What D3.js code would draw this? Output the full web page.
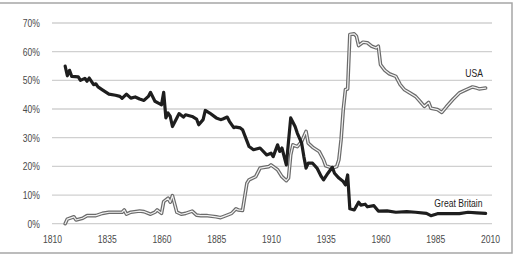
<!DOCTYPE html>
<html>
<head>
<meta charset="utf-8">
<script src="https://cdn.jsdelivr.net/npm/d3@7"></script>
<style>
  html, body { margin: 0; padding: 0; background: #fff; }
  svg { display: block; }
  text { font-family: "Liberation Sans", Arial, sans-serif; }
</style>
</head>
<body>
<svg id="chart" width="520" height="255"></svg>
<script>
// ---- Data ----
const yTicks = [0, 10, 20, 30, 40, 50, 60, 70];
const xTicks = [1810, 1835, 1860, 1885, 1910, 1935, 1960, 1985, 2010];

const usaYears = [1816,1817,1820,1821,1824,1826,1830,1833,1836,1838,1842,1843,1844,1846,1850,1852,1855,1857,1858,1860,1861,1863,1864,1865,1867,1869,1871,1874,1876,1878,1881,1885,1887,1890,1892,1894,1895,1897,1899,1900,1903,1905,1909,1910,1913,1915,1917,1918,1919,1920,1922,1924,1926,1927,1929,1932,1934,1935,1938,1940,1941,1942,1943,1944,1945,1946,1948,1949,1950,1952,1954,1956,1958,1959,1960,1962,1964,1967,1969,1971,1973,1976,1978,1980,1982,1983,1986,1988,1990,1993,1996,1999,2002,2004,2005,2008];
const usaShare = [0,1.6,2.4,1.3,1.9,2.8,2.8,3.6,4,4,4,4.8,3.3,4,4.4,4.2,3.3,4,4.8,3.6,7.7,8.9,7.5,9.8,4,3.3,3.6,4.4,3,2.8,2.8,2.4,2.1,3,3.6,5.2,4.8,4.6,14.1,15.3,16.4,19.4,19.9,20.5,18.8,16.4,15,15.9,24,27.5,26.9,28.7,32.2,28.1,26.7,25.2,22.3,20.2,19.4,19.9,22.3,29.3,39.8,46.8,47,66,66.2,65.4,62.1,63.3,63.1,61.9,61.3,61.9,55.5,53.5,52.3,51.4,48.5,46.7,45.8,44.4,42.7,40.9,42.3,40.3,39.8,38.8,40.7,43.3,45.6,46.7,47.7,47.3,47,47.3];

const gbYears = [1816,1817,1818,1819,1822,1823,1825,1826,1827,1829,1830,1831,1833,1836,1839,1841,1842,1844,1846,1848,1850,1852,1854,1855,1857,1859,1860,1861,1862,1863,1864,1865,1867,1868,1870,1871,1874,1876,1877,1879,1880,1882,1885,1887,1888,1890,1891,1893,1894,1896,1897,1900,1902,1905,1908,1910,1911,1913,1914,1915,1917,1919,1921,1922,1924,1925,1926,1927,1929,1931,1933,1934,1936,1938,1939,1941,1943,1944,1945,1946,1948,1950,1951,1953,1954,1957,1959,1963,1967,1972,1976,1981,1983,1986,1990,1996,2000,2004,2008];
const gbShare = [55,51.6,53.5,51.4,51.2,50,50.7,49.7,50.8,48.5,48.8,47.7,46.7,45.2,44.8,44.4,43.7,45.2,43.8,44.2,43.5,43,44.4,45.8,42.7,41.9,41.5,45.8,36.9,38.6,37.4,33.9,36.9,38.4,37.2,38,37.4,36.5,34.5,36.3,39.5,38.6,36.9,36.3,36.5,37.2,35.7,33.5,33.7,33.4,32.8,26.9,25.8,26.4,24,24.6,23.4,27.5,25.2,26.4,20.5,36.9,33.9,31.6,28.1,23.4,19.4,21.1,21.1,19.4,16.4,15.3,17.6,19.7,17.6,15.9,14.7,13.5,17,5.2,4.8,7.5,6.5,6.8,5.9,6.3,4.4,4.5,4,4.2,4,3.6,2.8,3.5,3.5,3.5,4,3.8,3.6];

const seriesLabels = ["USA", "Great Britain"];

// ---- Chart ----
const svg = d3.select("#chart");
const NARROW = "scale(0.78,1)";

// frame
svg.append("rect")
  .attr("x", -2).attr("y", 3).attr("width", 514).attr("height", 250)
  .attr("fill", "#fff").attr("stroke", "#a6a6a6").attr("stroke-width", 1.5);

const x = d3.scaleLinear().domain([1810, 2010]).range([52, 490]);
const y = d3.scaleLinear().domain([0, 70]).range([223.7, 23]);

// grid
svg.append("g").selectAll("line").data(yTicks).join("line")
  .attr("x1", 52).attr("x2", 492)
  .attr("y1", d => y(d)).attr("y2", d => y(d))
  .attr("stroke", "#d0d0d0").attr("stroke-width", 1.3);

// y axis labels
const yAxis = d3.axisLeft(y).tickValues(yTicks).tickFormat(d => d + "%").tickSize(0).tickPadding(0);
const gy = svg.append("g").attr("transform", "translate(40,0)").call(yAxis);
gy.select(".domain").remove();
gy.selectAll("text").attr("fill", "#4a4a4a").attr("transform", NARROW)
  .style("font-size", "11px").style("font-family", "Liberation Sans, Arial, sans-serif");

// x axis labels
const xAxis = d3.axisBottom(x).tickValues(xTicks).tickFormat(d3.format("d")).tickSize(0).tickPadding(0);
const gx = svg.append("g").attr("transform", "translate(0,235.5)").call(xAxis);
gx.select(".domain").remove();
gx.selectAll("text").attr("fill", "#4a4a4a").attr("transform", NARROW)
  .style("font-size", "11px").style("font-family", "Liberation Sans, Arial, sans-serif");

const line = d3.line().x(d => x(d[0])).y(d => y(d[1])).curve(d3.curveLinear);
const usa = usaYears.map((yr, i) => [yr, usaShare[i]]);
const gb = gbYears.map((yr, i) => [yr, gbShare[i]]);

// USA: double (cased) line
svg.append("path").datum(usa).attr("d", line)
  .attr("fill", "none").attr("stroke", "#6b6b6b").attr("stroke-width", 3.6)
  .attr("stroke-linejoin", "round").attr("stroke-linecap", "round");
svg.append("path").datum(usa).attr("d", line)
  .attr("fill", "none").attr("stroke", "#f2f2f2").attr("stroke-width", 1.2)
  .attr("stroke-linejoin", "round").attr("stroke-linecap", "round");

// Great Britain: bold dark line
svg.append("path").datum(gb).attr("d", line)
  .attr("fill", "none").attr("stroke", "#1e1e1e").attr("stroke-width", 3.2)
  .attr("stroke-linejoin", "round").attr("stroke-linecap", "round");

// series labels
svg.append("g").attr("transform", "translate(483,77.3)")
  .append("text").attr("text-anchor", "end").attr("transform", NARROW)
  .attr("fill", "#222").style("font-size", "11px").text(seriesLabels[0]);
svg.append("g").attr("transform", "translate(482.5,206.5)")
  .append("text").attr("text-anchor", "end").attr("transform", NARROW)
  .attr("fill", "#222").style("font-size", "11px").text(seriesLabels[1]);
</script>
</body>
</html>
